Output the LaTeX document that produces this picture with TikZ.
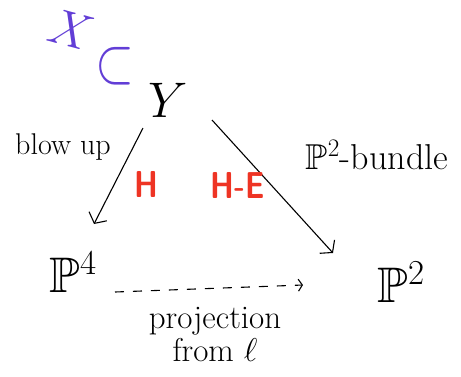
\RequirePackage{fix-cm}
\documentclass[tikz,border=0pt]{standalone}
\usepackage{amsmath,amssymb}
\usepackage{tikz}
\usetikzlibrary{arrows.meta}
\definecolor{penpurple}{RGB}{98,62,214}
\definecolor{penred}{RGB}{238,52,36}

\begin{document}
\begin{tikzpicture}[x=1pt, y=-1pt, line width=1.1pt,
	every node/.style={font=\fontsize{30}{34}\selectfont, inner sep=0pt},
	space/.style={font=\fontsize{50}{54}\selectfont},
	divisor/.style={text=penred, font=\fontsize{30}{32}\sffamily\bfseries, yscale=1.25},
	map/.style={-{Straight Barb[length=8pt, width=20pt]}},
	rational/.style={dash pattern=on 9pt off 9pt, -{Straight Barb[length=4pt, width=12pt]}}]
	\useasboundingbox (0,0) rectangle (461,376);
	\node[text=penpurple, space, rotate=-15] (X) at (71,30) {$X$};
	\node[text=penpurple, space, yscale=1.3] (sub) at (115,66) {$\subset$};
	\node[space] (Y) at (168,100) {$Y$};
	\node[space] (P4) at (73,272) {$\mathbb{P}^4$};
	\node[space] (P2) at (401,282) {$\mathbb{P}^2$};
	\draw[map] ([xshift=-25pt, yshift=-28pt]Y.center) -- ([xshift=21pt, yshift=48pt]P4.center);
	\draw[map] ([xshift=44pt, yshift=-20pt]Y.center) -- ([xshift=-68pt, yshift=29pt]P2.center);
	\draw[rational] ([xshift=42pt, yshift=-20pt]P4.center) -- ([xshift=-98pt, yshift=-3pt]P2.center);
	\node (blow) at (63,147) {blow up};
	\node[font=\fontsize{36}{38}\selectfont] (bundle) at (377,155) {$\mathbb{P}^2$-bundle};
	\node[divisor] (H) at (146,184) {H};
	\node[divisor] (HE) at (238,185) {H-E};
	\node[align=center, font=\fontsize{33}{33}\selectfont] (proj) at (215,334) {projection\\from $\ell$};
\end{tikzpicture}
\end{document}
